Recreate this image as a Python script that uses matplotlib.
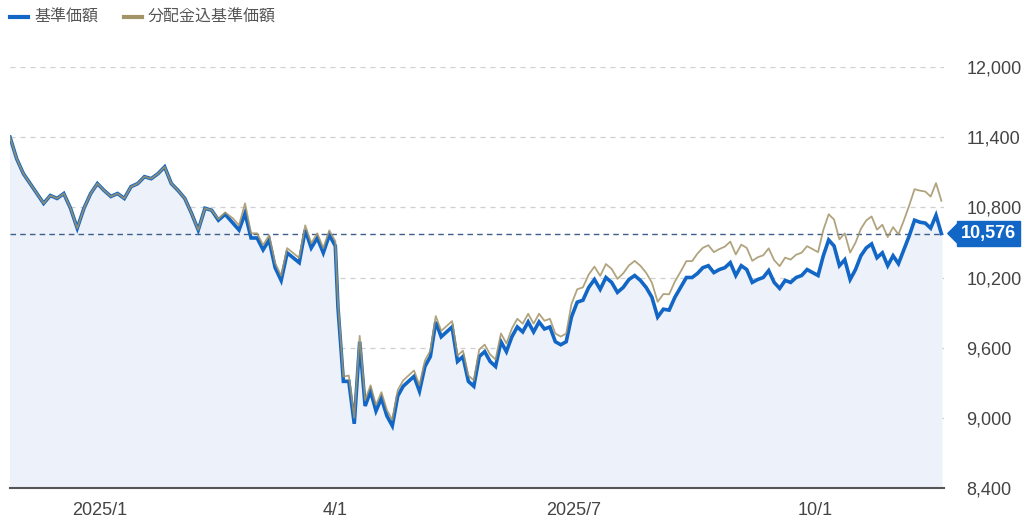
import numpy as np
import pandas as pd
import matplotlib
matplotlib.use("Agg")
import matplotlib.pyplot as plt
from matplotlib.patches import Polygon

plt.rcParams['font.family'] = ['Liberation Sans', 'Noto Sans CJK JP', 'DejaVu Sans']

# 基準価額 (blue) by segment
kijun = [11400, 11214, 11087, 11003, 10918, 10834, 10901, 10876, 10918, 10792, 10622, 10792, 10918, 11003, 10944,
         10893, 10918, 10876, 10977, 11003, 11062, 11045, 11087, 11146, 11003, 10944, 10876, 10749, 10606, 10792,
         10775, 10690, 10741,
         10665, 10606, 10749, 10538, 10538, 10437, 10521, 10284, 10175, 10411, 10369, 10327, 10606, 10453, 10538,
         10411, 10563, 10470,
         9946, 9312, 9312, 8949, 9651, 9101, 9228, 9059, 9169, 9017, 8932, 9186, 9270, 9312, 9355, 9228, 9439, 9524,
         9820, 9693, 9735, 9777, 9482, 9524, 9312, 9270, 9524, 9566, 9482, 9439, 9651, 9566, 9693, 9777, 9735, 9820,
         9735, 9820, 9760, 9777, 9651, 9625, 9651,
         9862, 9989, 10006, 10115, 10183, 10099, 10200, 10158, 10073, 10115, 10183, 10217, 10175, 10115, 10031, 9862,
         9929, 9921, 10031, 10115, 10200, 10200,
         10234, 10284, 10301, 10242, 10268, 10284, 10327, 10217, 10301, 10268, 10158, 10183, 10200, 10259, 10158,
         10107, 10175, 10158, 10200, 10217, 10268, 10242, 10217,
         10386, 10521, 10470, 10301, 10352, 10183, 10268, 10386, 10453, 10487, 10369, 10411, 10301, 10386, 10318,
         10437, 10555, 10690, 10673, 10665, 10622, 10732, 10576]

# 分配金込基準価額 (gold)
bunpai = [11400, 11214, 11087, 11003, 10918, 10834, 10901, 10876, 10918, 10792, 10622, 10792, 10918, 11003, 10944,
          10893, 10918, 10876, 10977, 11003, 11062, 11045, 11087, 11146, 11003, 10944, 10876, 10749, 10606, 10792,
          10775, 10700, 10756,
          10705, 10646, 10834, 10578, 10578, 10477, 10561, 10324, 10215, 10451, 10409, 10367, 10646, 10493, 10578,
          10451, 10603, 10510,
          9986, 9352, 9362, 9000, 9701, 9151, 9278, 9109, 9219, 9067, 8982, 9236, 9320, 9362, 9405, 9278, 9489, 9574,
          9870, 9743, 9785, 9827, 9532, 9574, 9362, 9320, 9584, 9626, 9542, 9499, 9721, 9636, 9763, 9847, 9805, 9890,
          9805, 9890, 9830, 9847, 9721, 9695, 9721,
          9972, 10099, 10116, 10225, 10293, 10214, 10315, 10273, 10188, 10235, 10303, 10342, 10300, 10240, 10156, 9992,
          10059, 10056, 10166, 10250, 10340, 10340,
          10404, 10454, 10476, 10417, 10443, 10464, 10507, 10397, 10481, 10453, 10343, 10373, 10390, 10449, 10348,
          10297, 10370, 10353, 10395, 10412, 10468, 10442, 10417,
          10606, 10741, 10695, 10526, 10577, 10413, 10498, 10616, 10688, 10722, 10609, 10651, 10546, 10631, 10568,
          10687, 10815, 10955, 10943, 10935, 10892, 11007, 10856]

# date segments (start, end, count)
segments = [("2024-11-28", "2025-02-18", 33), ("2025-02-21", "2025-04-01", 18), ("2025-04-02", "2025-06-28", 43),
            ("2025-06-30", "2025-08-15", 22), ("2025-08-17", "2025-10-02", 23), ("2025-10-04", "2025-11-18", 23)]
dates = pd.DatetimeIndex(np.concatenate([pd.date_range(s, e, periods=n).values for s, e, n in segments]))

yticks = [8400, 9000, 9600, 10200, 10800, 11400, 12000]
xtick_dates = ["2025-01-01", "2025-04-01", "2025-07-01", "2025-10-01"]
xtick_labels = ["2025/1", "4/1", "2025/7", "10/1"]
last_value = 10576

blue = "#1166c6"
gold = "#a39468"

fig = plt.figure(figsize=(10.24, 5.29), dpi=100)
ax = fig.add_axes([10 / 1024, 1 - 488 / 529, 934 / 1024, (488 - 67) / 529])

ax.fill_between(dates, kijun, 8400, color="#edf1fa", zorder=1)
ax.plot(dates, kijun, color=blue, lw=2.6, zorder=3, solid_joinstyle="miter")
ax.plot(dates, bunpai, color=gold, lw=1.3, zorder=4, alpha=0.85)

ax.set_ylim(8400, 12000)
ax.set_xlim(pd.Timestamp("2024-11-28"), pd.Timestamp("2025-11-19"))
for t in yticks[1:]:
    ax.axhline(t, color="#cfcfcf", lw=0.9, ls=(0, (4, 4)), zorder=0)
ax.axhline(last_value, color="#3b5f8a", lw=1.0, ls=(0, (4, 3)), zorder=2)

ax.set_yticks(yticks)
ax.set_yticklabels([f"{t:,}" for t in yticks])
ax.yaxis.tick_right()
ax.tick_params(axis="y", length=0, pad=16, labelsize=13, labelcolor="#444444")
ax.set_xticks(pd.to_datetime(xtick_dates))
ax.set_xticklabels(xtick_labels)
ax.tick_params(axis="x", length=0, pad=10, labelsize=13, labelcolor="#444444")
for s in ["top", "left", "right"]:
    ax.spines[s].set_visible(False)
ax.spines["bottom"].set_color("#555555")
ax.spines["bottom"].set_linewidth(1.5)

# last value tag
ax.text(1.018, last_value, f"{last_value:,}", transform=ax.get_yaxis_transform(), ha="left", va="center",
        fontsize=13, fontweight="bold", color="white", zorder=6,
        bbox=dict(boxstyle="square,pad=0.2", fc=blue, ec=blue))
tri = Polygon([[1.004, last_value], [1.016, last_value + 95], [1.016, last_value - 95]], closed=True,
              transform=ax.get_yaxis_transform(), color=blue, clip_on=False, zorder=6)
ax.add_patch(tri)

# legend
fig.add_artist(plt.Line2D([10 / 1024, 28 / 1024], [1 - 17 / 529] * 2, color=blue, lw=3))
fig.text(34 / 1024, 1 - 17 / 529, "基準価額", fontsize=11.5, color="#555555", va="center")
fig.add_artist(plt.Line2D([124 / 1024, 142 / 1024], [1 - 17 / 529] * 2, color=gold, lw=3))
fig.text(148 / 1024, 1 - 17 / 529, "分配金込基準価額", fontsize=11.5, color="#555555", va="center")

fig.savefig("out.png", dpi=100)
